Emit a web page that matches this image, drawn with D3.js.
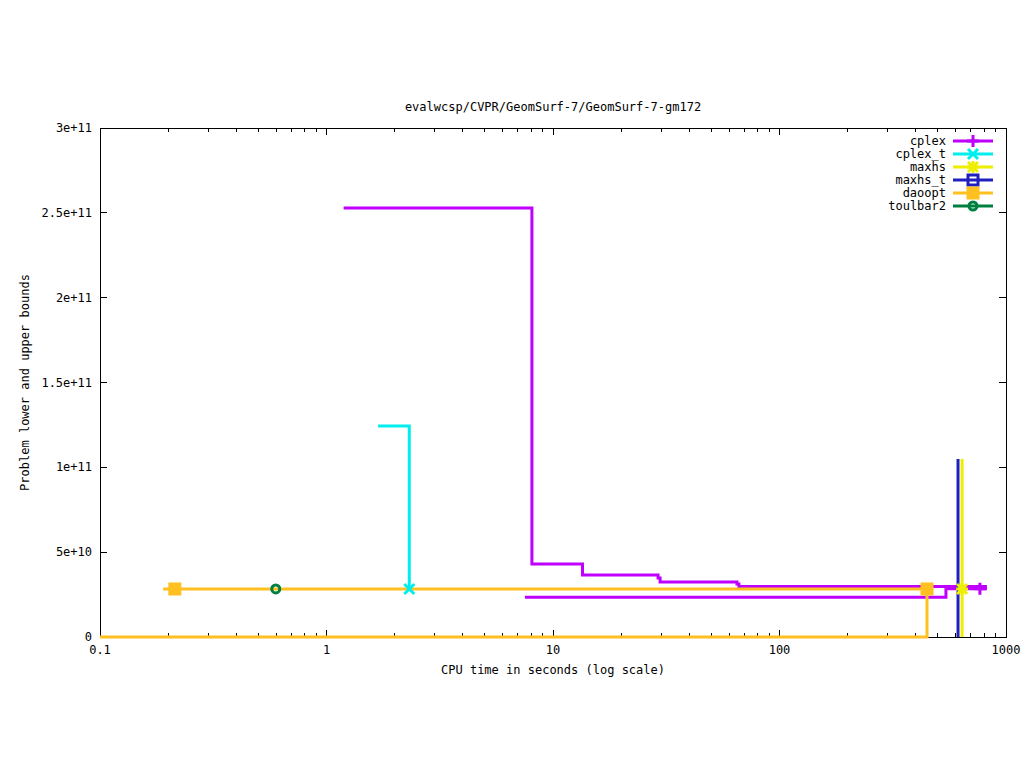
<!DOCTYPE html>
<html><head><meta charset="utf-8">
<script src="https://cdn.jsdelivr.net/npm/d3@7"></script>
<style>body{margin:0;background:#fff}text{font-family:"DejaVu Sans Mono",monospace;font-size:12px;fill:#000}</style>
</head><body><svg id="c" width="1024" height="768"></svg>
<script>
const title = "evalwcsp/CVPR/GeomSurf-7/GeomSurf-7-gm172";
const xLabel = "CPU time in seconds (log scale)";
const yLabel = "Problem lower and upper bounds";
const xTicks = [0.1, 1, 10, 100, 1000];
const xTickLabels = ["0.1", "1", "10", "100", "1000"];
const yTicks = [0, 5e10, 1e11, 1.5e11, 2e11, 2.5e11, 3e11];
const yTickLabels = ["0", "5e+10", "1e+11", "1.5e+11", "2e+11", "2.5e+11", "3e+11"];
const seriesNames = ["cplex", "cplex_t", "maxhs", "maxhs_t", "daoopt", "toulbar2"];
const seriesColors = ["#c000ff", "#00eeee", "#eeee00", "#2020c0", "#ffc020", "#008040"];
const seriesSymbols = ["plus", "cross", "star", "box", "fbox", "circle"];

// cplex
const cplexUpperT = [1.19, 8.07, 13.5, 29.1, 29.7, 64.9, 66.2, 824];
const cplexUpperV = [2.528e11, 4.30e10, 3.654e10, 3.477e10, 3.242e10, 3.124e10, 2.97e10, 2.97e10];
const cplexLowerT = [7.52, 543, 824];
const cplexLowerV = [2.34e10, 2.85e10, 2.85e10];
const cplexMarkT = [767];
const cplexMarkV = [2.85e10];
// cplex_t
const cplexTUpperT = [1.69, 2.32];
const cplexTUpperV = [1.244e11, 2.83e10];
const cplexTMarkT = [2.32];
const cplexTMarkV = [2.83e10];
// maxhs
const maxhsUpperT = [640, 640];
const maxhsUpperV = [1.049e11, 2.83e10];
const maxhsLowerT = [640, 640];
const maxhsLowerV = [0, 2.83e10];
const maxhsMarkT = [640];
const maxhsMarkV = [2.83e10];
// maxhs_t
const maxhsTUpperT = [614, 614];
const maxhsTUpperV = [1.049e11, 2.83e10];
const maxhsTLowerT = [614, 614];
const maxhsTLowerV = [0, 2.83e10];
// daoopt
const daooptUpperT = [0.19, 448];
const daooptUpperV = [2.83e10, 2.83e10];
const daooptLowerT = [0.1, 448, 448];
const daooptLowerV = [0, 0, 2.83e10];
const daooptMarkT = [0.214, 448];
const daooptMarkV = [2.83e10, 2.83e10];
// toulbar2
const toulbarMarkT = [0.597];
const toulbarMarkV = [2.83e10];

const L = 100, R = 1006, T = 128, B = 637;
const svg = d3.select("#c");
const x = d3.scaleLog().domain([0.1, 1000]).range([L, R]);
const y = d3.scaleLinear().domain([0, 3e11]).range([B, T]);

// frame
svg.append("rect").attr("x", L).attr("y", T).attr("width", R - L).attr("height", B - T)
  .attr("fill", "none").attr("stroke", "#000").attr("stroke-width", 1).attr("shape-rendering", "crispEdges");

// ticks
const minor = [];
for (let d = 0.1; d < 1000; d *= 10) for (let k = 2; k <= 9; k++) minor.push(d * k);
const tg = svg.append("g").attr("stroke", "#000").attr("shape-rendering", "crispEdges");
xTicks.forEach(v => {
  tg.append("line").attr("x1", x(v)).attr("x2", x(v)).attr("y1", B).attr("y2", B - 7);
  tg.append("line").attr("x1", x(v)).attr("x2", x(v)).attr("y1", T).attr("y2", T + 7);
});
minor.forEach(v => {
  tg.append("line").attr("x1", x(v)).attr("x2", x(v)).attr("y1", B).attr("y2", B - 4);
  tg.append("line").attr("x1", x(v)).attr("x2", x(v)).attr("y1", T).attr("y2", T + 4);
});
yTicks.forEach(v => {
  tg.append("line").attr("x1", L).attr("x2", L + 7).attr("y1", y(v)).attr("y2", y(v));
  tg.append("line").attr("x1", R).attr("x2", R - 7).attr("y1", y(v)).attr("y2", y(v));
});
xTicks.forEach((v, i) => {
  svg.append("text").attr("x", x(v)).attr("y", 654).attr("text-anchor", "middle").text(xTickLabels[i]);
});
yTicks.forEach((v, i) => {
  svg.append("text").attr("x", 92).attr("y", y(v) + 4).attr("text-anchor", "end").text(yTickLabels[i]);
});
svg.append("text").attr("x", (L + R) / 2).attr("y", 111).attr("text-anchor", "middle").text(title);
svg.append("text").attr("x", (L + R) / 2).attr("y", 674).attr("text-anchor", "middle").text(xLabel);
svg.append("text").attr("transform", `translate(29,${(T + B) / 2}) rotate(-90)`).attr("text-anchor", "middle").text(yLabel);

// clip
svg.append("clipPath").attr("id", "pc").append("rect").attr("x", L).attr("y", T - 2).attr("width", R - L).attr("height", B - T + 4);
const plot = svg.append("g").attr("clip-path", "url(#pc)");
const line = d3.line().x(d => x(d[0])).y(d => y(d[1])).curve(d3.curveStepAfter);
const zip = (a, b) => a.map((t, i) => [t, b[i]]);
const lines = [
  [cplexUpperT, cplexUpperV, 0], [cplexLowerT, cplexLowerV, 0],
  [cplexTUpperT, cplexTUpperV, 1],
  [maxhsUpperT, maxhsUpperV, 2], [maxhsLowerT, maxhsLowerV, 2],
  [maxhsTUpperT, maxhsTUpperV, 3], [maxhsTLowerT, maxhsTLowerV, 3],
  [daooptUpperT, daooptUpperV, 4], [daooptLowerT, daooptLowerV, 4]
];
lines.forEach(([t, v, c]) => {
  plot.append("path").attr("d", line(zip(t, v))).attr("fill", "none")
    .attr("stroke", seriesColors[c]).attr("stroke-width", 3);
});

function marker(g, sym, cx, cy, col) {
  const s = 6;
  if (sym === "plus") {
    g.append("path").attr("d", `M${cx - s},${cy}H${cx + s}M${cx},${cy - s}V${cy + s}`).attr("stroke", col).attr("stroke-width", 3);
  } else if (sym === "cross") {
    g.append("path").attr("d", `M${cx - 5},${cy - 5}L${cx + 5},${cy + 5}M${cx - 5},${cy + 5}L${cx + 5},${cy - 5}`).attr("stroke", col).attr("stroke-width", 3);
  } else if (sym === "star") {
    g.append("path").attr("d", `M${cx - 5},${cy - 5}L${cx + 5},${cy + 5}M${cx - 5},${cy + 5}L${cx + 5},${cy - 5}M${cx - 6},${cy}H${cx + 6}M${cx},${cy - 6}V${cy + 6}`).attr("stroke", col).attr("stroke-width", 3);
  } else if (sym === "box") {
    g.append("rect").attr("x", cx - 5).attr("y", cy - 5).attr("width", 10).attr("height", 10).attr("fill", "none").attr("stroke", col).attr("stroke-width", 3);
  } else if (sym === "fbox") {
    g.append("rect").attr("x", cx - 6.5).attr("y", cy - 6.5).attr("width", 13).attr("height", 13).attr("fill", col);
  } else if (sym === "circle") {
    g.append("circle").attr("cx", cx).attr("cy", cy).attr("r", 4).attr("fill", "none").attr("stroke", col).attr("stroke-width", 3);
  }
}
const marks = [[cplexMarkT, cplexMarkV, 0], [cplexTMarkT, cplexTMarkV, 1], [maxhsMarkT, maxhsMarkV, 2],
  [daooptMarkT, daooptMarkV, 4], [toulbarMarkT, toulbarMarkV, 5]];
marks.forEach(([t, v, c]) => t.forEach((tt, i) => marker(plot, seriesSymbols[c], x(tt), y(v[i]), seriesColors[c])));

// legend
seriesNames.forEach((n, i) => {
  const ly = 141 + i * 13;
  svg.append("text").attr("x", 946).attr("y", ly + 4).attr("text-anchor", "end").text(n);
  svg.append("line").attr("x1", 953).attr("x2", 993).attr("y1", ly).attr("y2", ly).attr("stroke", seriesColors[i]).attr("stroke-width", 3);
  marker(svg, seriesSymbols[i], 973, ly, seriesColors[i]);
});
</script></body></html>
